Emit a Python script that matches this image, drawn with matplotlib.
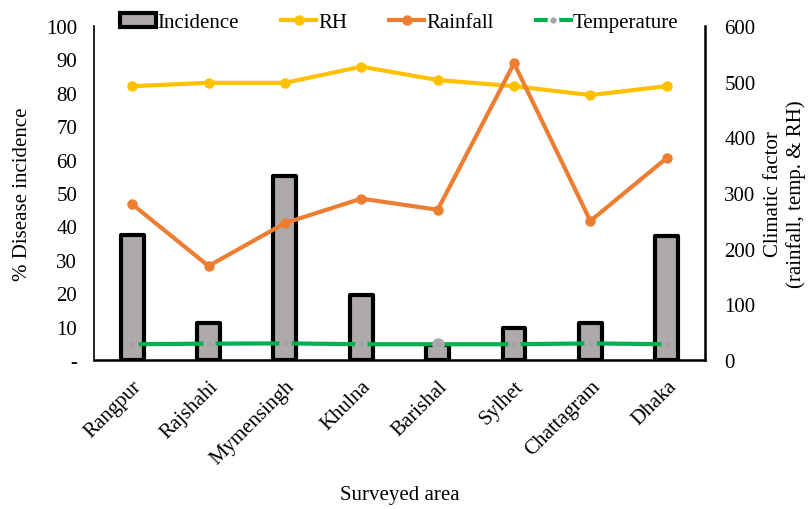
import numpy as np
import matplotlib.pyplot as plt
from matplotlib.lines import Line2D
from matplotlib.patches import Patch

plt.rcParams['font.family'] = ['Liberation Serif', 'DejaVu Serif']

# 调查地区
areas = ["Rangpur", "Rajshahi", "Mymensingh", "Khulna", "Barishal",
         "Sylhet", "Chattagram", "Dhaka"]

# 发病率 (%)
incidence = [37.5, 11, 55, 19.5, 4.5, 9.7, 11, 37.2]

# 气候因子
rh = [492, 498, 498, 527, 503, 492, 476, 492]
rainfall = [280, 169, 246, 290, 270, 533, 250, 363]
temperature = [28.5, 29.5, 30, 28.5, 28.5, 28.5, 30, 28.5]

x = np.arange(len(areas))
fs = 15
bar_color = "#AEAAAA"

fig = plt.figure(figsize=(8.08, 5.10), dpi=100)
ax = fig.add_axes([0.1163, 0.292, 0.7562, 0.655])

ax.bar(x, incidence, width=0.3, color=bar_color, edgecolor="black",
       linewidth=3, joinstyle="round", zorder=2)
ax.set_xlim(-0.5, len(areas) - 0.5)
ax.set_ylim(0, 100)
ax.set_yticks(np.arange(0, 101, 10))
ax.set_yticklabels(["-"] + [str(v) for v in range(10, 101, 10)])
ax.set_xticks(x)
ax.set_xticklabels(areas, rotation=45, ha="right", rotation_mode="anchor")
ax.tick_params(axis="both", length=0, labelsize=fs)
ax.tick_params(axis="y", pad=12)
ax.tick_params(axis="x", pad=12)
ax.set_ylabel("% Disease incidence", fontsize=fs, labelpad=10)
ax.set_xlabel("Surveyed area", fontsize=fs, labelpad=12)

# 右轴：气候因子
ax2 = ax.twinx()
ax2.plot(x, rh, color="#FFC000", linewidth=3, marker="o", markersize=6.5)
ax2.plot(x, rainfall, color="#ED7D31", linewidth=3, marker="o", markersize=6.5)
ax2.plot(x, temperature, color="#00B050", linewidth=3, marker="o",
         markersize=6.5, markerfacecolor="#A3A3A3", markeredgecolor=bar_color,
         markeredgewidth=2.5)
ax2.set_ylim(0, 600)
ax2.set_yticks(np.arange(0, 601, 100))
ax2.tick_params(axis="y", length=0, labelsize=fs, pad=14)
ax2.set_ylabel("Climatic factor\n(rainfall, temp. & RH)", fontsize=fs,
               labelpad=6)

for a in (ax, ax2):
    a.spines["top"].set_visible(False)
ax.spines["left"].set_linewidth(1.2)
ax.spines["bottom"].set_linewidth(1.8)
ax2.spines["right"].set_linewidth(1.8)
ax2.spines["left"].set_visible(False)

# 图例放在顶部
handles = [
    Patch(facecolor=bar_color, edgecolor="black", linewidth=3,
          joinstyle="round"),
    Line2D([], [], color="#FFC000", linewidth=3, marker="o", markersize=6.5),
    Line2D([], [], color="#ED7D31", linewidth=3, marker="o", markersize=6.5),
    Line2D([], [], color="#00B050", linewidth=3, marker="o", markersize=6.5,
           markerfacecolor="#A5A5A5", markeredgecolor="white",
           markeredgewidth=2),
]
ax2.legend(handles, ["Incidence", "RH", "Rainfall", "Temperature"],
           loc="center", bbox_to_anchor=(0.5, 1.01), ncol=4, frameon=False,
           fontsize=fs, handlelength=1.7, handletextpad=0.1,
           columnspacing=2.0, borderaxespad=0)

plt.savefig("out.png", dpi=100)
